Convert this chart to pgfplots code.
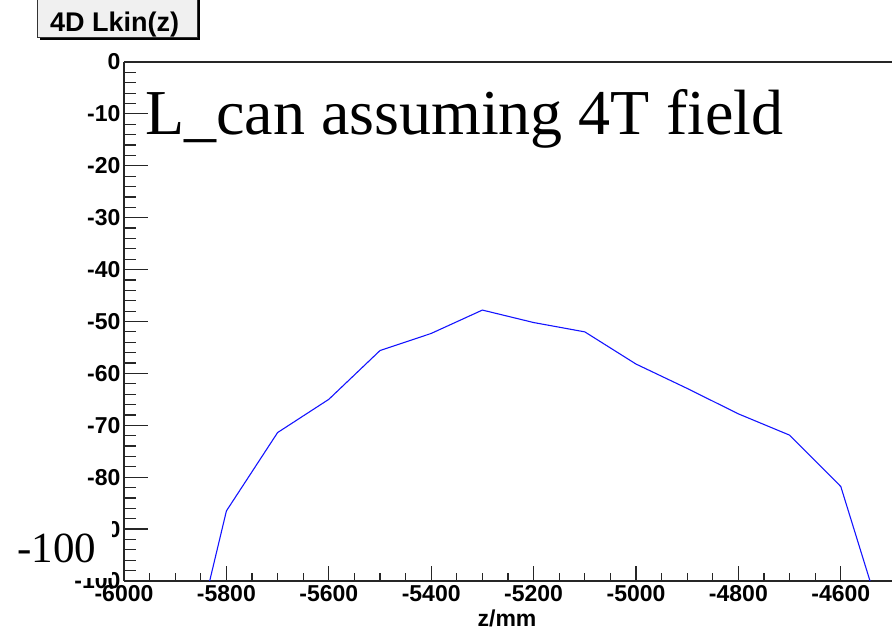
\documentclass[border=0pt]{standalone}
\usepackage{fontspec}
\setmainfont{Liberation Serif}
\newfontfamily\hv{Liberation Sans}
\usepackage{pgfplots}
\pgfplotsset{compat=1.18}
\begin{document}
\begin{tikzpicture}
\useasboundingbox (0pt,0pt) rectangle (892pt,631pt);
% frame + x ticks
\begin{axis}[at={(124pt,50pt)}, anchor=south west, scale only axis,
  width=768pt, height=519pt,
  xmin=-6000, xmax=-4500, ymin=-100, ymax=0,
  axis x line*=box, axis y line*=left,
  axis line style={line width=1.2pt, black!85},
  xtick={-6000,-5800,-5600,-5400,-5200,-5000,-4800,-4600},
  xticklabels={-6000,-5800,-5600,-5400,-5200,-5000,-4800,-4600},
  minor x tick num=3, xtick pos=left, ytick=\empty,
  tick align=inside, major tick length=15pt, minor tick length=8pt,
  tick style={line width=1.2pt, black!85},
  xticklabel style={font=\hv\bfseries\fontsize{23}{23}\selectfont, yshift=-1pt},
]
\end{axis}
% y ticks + data
\begin{axis}[at={(124pt,50pt)}, anchor=south west, scale only axis,
  width=768pt, height=519pt,
  xmin=-6000, xmax=-4500, ymin=-100, ymax=0,
  axis line style={draw=none},
  xtick=\empty,
  ytick={-100,-90,-80,-70,-60,-50,-40,-30,-20,-10,0},
  yticklabels={-100,-90,-80,-70,-60,-50,-40,-30,-20,-10,0},
  minor y tick num=4, ytick pos=left,
  tick align=inside, major tick length=24pt, minor tick length=12pt,
  tick style={line width=1.2pt, black!85},
  yticklabel style={font=\hv\bfseries\fontsize{23}{23}\selectfont},
]
\addplot[color={rgb,255:red,20;green,20;blue,255}, line width=1.1pt] table {
x y
-5900 -127.8
-5800 -86.5
-5700 -71.4
-5600 -65.0
-5500 -55.6
-5400 -52.3
-5300 -47.8
-5200 -50.2
-5100 -52.0
-5000 -58.2
-4900 -62.9
-4800 -67.8
-4700 -71.9
-4600 -81.8
-4500 -113.7
};
\end{axis}
% x axis title
\node[anchor=base, font=\hv\bfseries\fontsize{23}{23}\selectfont] at (507pt,4pt) {z/mm};
% title box
\fill[black] (40pt,591pt) rectangle (200pt,640pt);
\filldraw[fill=black!6, draw=black!80, line width=0.8pt] (37pt,594pt) rectangle (197pt,640pt);
\node[anchor=base west, inner sep=0pt, font=\hv\bfseries\fontsize{27}{27}\selectfont] at (50pt,599pt) {4D Lkin(z)};
% overlay texts
\node[anchor=base west, inner sep=0pt, font=\fontsize{64}{64}\selectfont] at (145pt,496pt) {L\_can assuming 4T field};
\fill[white] (0pt,53pt) rectangle (112pt,116pt);
\node[anchor=base west, inner sep=0pt, font=\fontsize{43}{43}\selectfont] at (17pt,68pt) {-100};
\end{tikzpicture}
\end{document}
